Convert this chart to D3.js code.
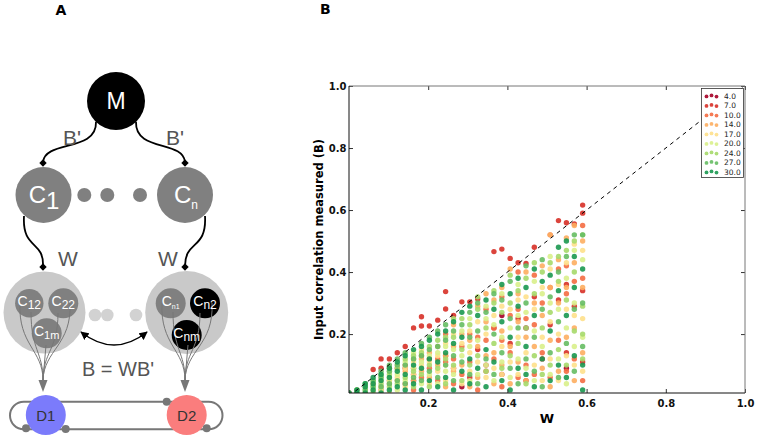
<!DOCTYPE html>
<html>
<head>
<meta charset="utf-8">
<script src="https://cdn.jsdelivr.net/npm/d3@7"></script>
<style>
  body { margin: 0; background: #fff; }
  svg { display: block; }
</style>
</head>
<body>
<svg id="fig" width="759" height="438"></svg>
<script>
// ---- data ----
const wValues = [0.000, 0.020, 0.041, 0.061, 0.081, 0.102, 0.122, 0.142, 0.163, 0.183,
                 0.203, 0.224, 0.244, 0.264, 0.285, 0.305, 0.325, 0.346, 0.366, 0.386,
                 0.407, 0.427, 0.447, 0.468, 0.488, 0.508, 0.529, 0.549, 0.569, 0.590];

const legendLabels = ["4.0", "7.0", "10.0", "14.0", "17.0", "20.0", "24.0", "27.0", "30.0"];
const seriesColors = ["#a50026", "#d73027", "#f46d43", "#fdae61", "#fee08b",
                      "#d9ef8b", "#a6d96a", "#66bd63", "#1a9850"];
const xTicks = [0.2, 0.4, 0.6, 0.8, 1.0];
const yTicks = [0.2, 0.4, 0.6, 0.8, 1.0];

// one entry per W column: measured B values of each series
const b4 = [[],[],[],[],[],[],[],[],[0.05],[],
            [],[],[],[],[0.03],[],[],[],[],[0.26],
            [],[],[0.22],[],[],[],[],[0.09],[],[]];
const b7 = [[0.01],[],[],[0.086],[0.09,0.12],[0.12],[0.14],[0.16,0.09],[0.22,0.07],[0.256,0.226],
            [0.226,0.12],[0.245],[0.337,0.281,0.13],[0.26,0.09],[0.304],[0.304,0.06],[0.313,0.15],[0.10],[0.466,0.22],[0.474,0.07],
            [0.444,0.17],[0.43,0.25],[0.428,0.05],[0.48,0.32],[0.12],[0.23],[0.566,0.31],[0.559,0.36,0.14],[0.555,0.29],[0.616,0.59,0.34,0.11]];
const b10 = [[],[],[],[],[0.02],[0.05],[0.09],[0.04,0.10],[0.02,0.09],[0.06,0.13],
             [0.09],[0.05,0.12],[0.11,0.20],[0.04,0.12],[0.07,0.16],[0.11,0.20],[0.02,0.19],[0.08,0.18,0.28],[0.12,0.22],[0.03,0.18,0.32],
             [0.14,0.26],[0.06,0.28,0.40],[0.10,0.25],[0.07,0.23,0.39],[0.14,0.30],[0.06,0.35,0.52],[0.18,0.41],[0.08,0.33,0.42],[0.12,0.37],[0.05,0.38,0.55]];
const b14 = [[],[],[0.01],[0.04],[0.03],[0.04,0.09],[0.05],[0.08],[0.05,0.12],[0.08,0.12],
             [0.06,0.14],[0.10,0.16],[0.03,0.13],[0.08,0.16,0.23],[0.10,0.20],[0.03,0.18],[0.06,0.16,0.29],[0.13,0.24,0.33],[0.04,0.14,0.31],[0.10,0.21,0.35],
             [0.04,0.16,0.41],[0.11,0.24,0.33],[0.05,0.19,0.40],[0.16,0.30],[0.09,0.26,0.42],[0.03,0.18,0.35,0.52],[0.08,0.30,0.44],[0.19,0.35,0.51],[0.05,0.22,0.43,0.55],[0.14,0.35,0.50]];
const b17 = [[],[0.02],[],[0.02],[0.05],[0.01,0.06],[0.06,0.10],[0.03,0.09],[0.07,0.11],[0.10,0.15],
             [0.04,0.11],[0.08,0.13],[0.05,0.10,0.17],[0.09,0.20],[0.04,0.17],[0.08,0.14,0.21],[0.11,0.24],[0.06,0.20],[0.09,0.26],[0.07,0.16,0.29],
             [0.11,0.28],[0.07,0.19,0.31],[0.14,0.32],[0.10,0.28],[0.05,0.19,0.35],[0.12,0.24,0.41],[0.05,0.20,0.36],[0.13,0.28,0.43],[0.10,0.26,0.49],[0.08,0.25,0.47]];
const b20 = [[],[],[0.02],[0.03],[0.02,0.06],[0.05,0.08],[0.02,0.07],[0.05,0.11],[0.09,0.14],[0.04,0.11],
             [0.07,0.13],[0.04,0.14],[0.08,0.16],[0.07,0.15],[0.13,0.21],[0.05,0.16,0.25],[0.07,0.18],[0.10,0.25,0.29],[0.05,0.23],[0.11,0.19,0.33],
             [0.06,0.22],[0.12,0.26,0.36],[0.09,0.27],[0.05,0.21,0.37],[0.16,0.33],[0.07,0.30,0.45],[0.12,0.28],[0.04,0.22,0.38],[0.16,0.30,0.47],[0.19,0.44]];
const b24 = [[],[0.01],[0.03],[0.01,0.05],[0.04,0.07],[0.03,0.07],[0.04,0.09],[0.06,0.12],[0.03,0.08,0.13],[0.07,0.14],
             [0.03,0.10,0.16],[0.09,0.18],[0.04,0.12,0.19],[0.10,0.19,0.25],[0.05,0.15,0.25],[0.10,0.23],[0.13,0.28,0.32],[0.08,0.22],[0.17,0.30,0.34],[0.09,0.27],
             [0.13,0.30,0.39],[0.17,0.34],[0.04,0.22,0.38],[0.13,0.33,0.43],[0.07,0.22,0.40],[0.10,0.27,0.43],[0.15,0.37,0.45],[0.10,0.31,0.47],[0.21,0.40,0.50],[0.12,0.20,0.29,0.52]];
const b27 = [[0.01],[0.02],[0.02,0.04],[0.03,0.05],[0.03,0.06,0.08],[0.04,0.08,0.10],[0.05,0.10,0.12],[0.04,0.10,0.14],[0.06,0.12],[0.05,0.13,0.17],
             [0.08,0.15,0.19],[0.06,0.16,0.21],[0.10,0.18,0.23],[0.05,0.13,0.21],[0.11,0.23],[0.07,0.19,0.27],[0.04,0.21,0.30],[0.12,0.27],[0.07,0.20,0.33],[0.14,0.31],
             [0.09,0.25,0.37],[0.04,0.22],[0.12,0.30,0.42],[0.08,0.19],[0.03,0.28,0.44],[0.14,0.32],[0.06,0.24,0.40],[0.17,0.45],[0.08,0.28,0.52],[0.16,0.30,0.52]];
const b30 = [[0.01],[0.01,0.02],[0.01,0.03,0.04],[0.02,0.04,0.06],[0.01,0.05,0.07],[0.02,0.06,0.09],[0.03,0.08,0.11],[0.02,0.07,0.13],[0.04,0.10,0.15],[0.02,0.09,0.16],
             [0.05,0.12,0.18],[0.03,0.11,0.20],[0.06,0.14,0.21],[0.02,0.17,0.24],[0.08,0.19,0.27],[0.04,0.12,0.29],[0.09,0.26],[0.03,0.15,0.31],[0.11,0.28],[0.05,0.24,0.36],
             [0.02,0.19,0.33],[0.09,0.29,0.38],[0.07,0.16,0.35],[0.03,0.26,0.41],[0.12,0.37],[0.05,0.21,0.39],[0.10,0.34,0.48],[0.06,0.26,0.50],[0.13,0.35,0.45],[0.02,0.10,0.41]];

const allSeries = [b4, b7, b10, b14, b17, b20, b24, b27, b30];

// ---- figure ----
const svg = d3.select("#fig");

// ================= panel B : scatter =================
const x = d3.scaleLinear().domain([0, 1]).range([349, 745]);
const y = d3.scaleLinear().domain([0.01, 1]).range([393, 86]);

const gB = svg.append("g").attr("font-family", "DejaVu Sans, sans-serif");

gB.append("text").attr("x", 320).attr("y", 14)
  .attr("font-size", 14).attr("font-weight", "bold").text("B");

svg.append("clipPath").attr("id", "plotclip")
  .append("rect").attr("x", 349).attr("y", 86).attr("width", 396).attr("height", 307);

const points = [];
allSeries.forEach((s, k) => s.forEach((ys, i) => ys.forEach(b => points.push({ w: wValues[i], b: b, k: k }))));

const plot = gB.append("g").attr("clip-path", "url(#plotclip)");
plot.selectAll("circle.pt")
  .data(points)
  .join("circle")
  .attr("class", "pt")
  .attr("cx", d => x(d.w))
  .attr("cy", d => y(d.b))
  .attr("r", 2.7)
  .attr("fill", d => seriesColors[d.k])
  .attr("fill-opacity", 0.9);

// y = x reference
plot.append("line")
  .attr("x1", x(0)).attr("y1", y(0))
  .attr("x2", x(1)).attr("y2", y(1))
  .attr("stroke", "#000").attr("stroke-width", 1)
  .attr("stroke-dasharray", "4,4");

// axes (ticks inside, like old matplotlib)
const axB = gB.append("g").attr("transform", "translate(0,393)")
  .call(d3.axisBottom(x).tickValues(xTicks).tickSize(-4).tickPadding(6.5).tickFormat(d3.format(".1f")));
const axT = gB.append("g").attr("transform", "translate(0,86)")
  .call(d3.axisTop(x).tickValues(xTicks).tickSize(-4).tickFormat(""));
const axL = gB.append("g").attr("transform", "translate(349,0)")
  .call(d3.axisLeft(y).tickValues(yTicks).tickSize(-4).tickPadding(2.5).tickFormat(d3.format(".1f")));
const axR = gB.append("g").attr("transform", "translate(745,0)")
  .call(d3.axisRight(y).tickValues(yTicks).tickSize(-4).tickFormat(""));

[axB, axT, axL, axR].forEach(a => {
  a.select(".domain").remove();
  a.selectAll(".tick line").attr("stroke", "#333");
  a.selectAll(".tick text").attr("font-size", 10).attr("font-weight", "bold")
    .attr("font-family", "DejaVu Sans, sans-serif").attr("fill", "#111");
});

// spines
gB.append("line").attr("x1", 349).attr("x2", 745).attr("y1", 86).attr("y2", 86).attr("stroke", "#777");
gB.append("line").attr("x1", 745).attr("x2", 745).attr("y1", 86).attr("y2", 393).attr("stroke", "#777");
gB.append("line").attr("x1", 349).attr("x2", 745).attr("y1", 393).attr("y2", 393).attr("stroke", "#111");
gB.append("line").attr("x1", 349).attr("x2", 349).attr("y1", 86).attr("y2", 393).attr("stroke", "#111");

gB.append("text").attr("x", 547).attr("y", 422.5).attr("text-anchor", "middle")
  .attr("font-size", 13).attr("font-weight", "bold").text("W");
gB.append("text").attr("transform", "translate(323,239.5) rotate(-90)").attr("text-anchor", "middle")
  .attr("font-size", 11.5).attr("font-weight", "bold").text("Input correlation measured (B)");

// legend
const lg = gB.append("g");
lg.append("rect").attr("x", 701.5).attr("y", 88.5).attr("width", 42).attr("height", 89)
  .attr("fill", "#fff").attr("stroke", "#333").attr("stroke-width", 0.8);
const rowY = d3.scaleLinear().domain([0, 8]).range([96, 172]);
const dotOffsets = [[706.5, 0.4], [711.5, -0.6], [716.5, 0.6]];
legendLabels.forEach((lab, k) => {
  dotOffsets.forEach(([dx, dy]) => {
    lg.append("circle").attr("cx", dx).attr("cy", rowY(k) + dy).attr("r", 1.9)
      .attr("fill", seriesColors[k]).attr("fill-opacity", 0.9);
  });
  lg.append("text").attr("x", 724).attr("y", rowY(k) + 2.6)
    .attr("font-size", 7.5).attr("fill", "#222").text(lab);
});

// ================= panel A : diagram =================
const gA = svg.append("g").attr("font-family", "Liberation Sans, Arial, sans-serif");
gA.append("text").attr("x", 61).attr("y", 15).attr("text-anchor", "middle")
  .attr("font-family", "DejaVu Sans, sans-serif")
  .attr("font-size", 14).attr("font-weight", "bold").text("A");

const dark = "#000", mid = "#808080", light = "#c9c9c9", txt = "#555";

function diamond(cx, cy) {
  gA.append("rect").attr("x", cx - 2.6).attr("y", cy - 2.6).attr("width", 5.2).attr("height", 5.2)
    .attr("fill", "#000").attr("transform", `rotate(45,${cx},${cy})`);
}

// M -> C curves
gA.append("path").attr("d", "M96,122 C97,152 45,140 43,162").attr("fill", "none").attr("stroke", "#000").attr("stroke-width", 1.8);
gA.append("path").attr("d", "M136,122 C135,152 183,140 185,162").attr("fill", "none").attr("stroke", "#000").attr("stroke-width", 1.8);
diamond(43, 163); diamond(185, 163);

// C -> big circle curves
gA.append("path").attr("d", "M24,216 C22,250 44,240 43,266").attr("fill", "none").attr("stroke", "#000").attr("stroke-width", 1.8);
gA.append("path").attr("d", "M205,216 C207,250 185,240 185,266").attr("fill", "none").attr("stroke", "#000").attr("stroke-width", 1.8);
diamond(43, 267); diamond(185, 267);

// M
gA.append("circle").attr("cx", 116).attr("cy", 101).attr("r", 29).attr("fill", dark);
gA.append("text").attr("x", 116).attr("y", 109).attr("text-anchor", "middle").attr("fill", "#fff")
  .attr("font-size", 23).text("M");

gA.append("text").attr("x", 72).attr("y", 145).attr("text-anchor", "middle").attr("fill", txt).attr("font-size", 21).text("B'");
gA.append("text").attr("x", 175).attr("y", 145).attr("text-anchor", "middle").attr("fill", txt).attr("font-size", 21).text("B'");

// C row
gA.append("circle").attr("cx", 43.5).attr("cy", 195).attr("r", 28).attr("fill", mid);
gA.append("circle").attr("cx", 185).attr("cy", 195).attr("r", 28).attr("fill", mid);
[84.3, 107.3, 140].forEach(cx => gA.append("circle").attr("cx", cx).attr("cy", 195).attr("r", 7).attr("fill", mid));
const c1 = gA.append("text").attr("x", 44).attr("y", 203).attr("text-anchor", "middle").attr("fill", "#fff").attr("font-size", 24);
c1.append("tspan").text("C");
c1.append("tspan").attr("dy", 6).attr("font-size", 24).text("1");
const cn = gA.append("text").attr("x", 186).attr("y", 203).attr("text-anchor", "middle").attr("fill", "#fff").attr("font-size", 24);
cn.append("tspan").text("C");
cn.append("tspan").attr("dy", 6).attr("font-size", 12).text("n");

gA.append("text").attr("x", 68).attr("y", 266).attr("text-anchor", "middle").attr("fill", txt).attr("font-size", 21).text("W");
gA.append("text").attr("x", 168).attr("y", 266).attr("text-anchor", "middle").attr("fill", txt).attr("font-size", 21).text("W");

// big circles
gA.append("circle").attr("cx", 44.5).attr("cy", 312.5).attr("r", 41).attr("fill", light);
gA.append("circle").attr("cx", 186.7).attr("cy", 312.5).attr("r", 41.5).attr("fill", light);
[95, 107.3, 136].forEach(cx => gA.append("circle").attr("cx", cx).attr("cy", 315).attr("r", 6.3).attr("fill", "#d2d2d2"));

// grey lines converging on D
function funnel(dx) {
  const lines = [
    `M${20 + dx},303 C${18 + dx},345 ${43 + dx},350 ${43 + dx},380`,
    `M${31 + dx},312 C${31 + dx},350 ${43 + dx},352 ${43 + dx},380`,
    `M${58 + dx},313 C${58 + dx},350 ${43 + dx},352 ${43 + dx},380`,
    `M${70 + dx},303 C${72 + dx},345 ${44 + dx},350 ${43 + dx},380`,
    `M${46 + dx},345 L${43 + dx},380`
  ];
  lines.forEach(d => gA.append("path").attr("d", d).attr("fill", "none").attr("stroke", "#777").attr("stroke-width", 1));
  gA.append("path").attr("d", `M${38.5 + dx},380 L${47.5 + dx},380 L${43 + dx},392 Z`).attr("fill", "#777");
}

// inner circles
const inner = [
  { cx: 29.3, cy: 303.3, r: 14.2, fill: mid, sub: "12", fs: 12 },
  { cx: 63.3, cy: 303.3, r: 15, fill: mid, sub: "22", fs: 12 },
  { cx: 46.7, cy: 333.3, r: 15, fill: mid, sub: "1m", fs: 11 },
  { cx: 170.7, cy: 303.3, r: 15, fill: mid, sub: "n1", fs: 7 },
  { cx: 205, cy: 303.3, r: 15, fill: dark, sub: "n2", fs: 12 },
  { cx: 186.7, cy: 335, r: 15, fill: dark, sub: "nm", fs: 12 }
];
inner.forEach(c => gA.append("circle").attr("cx", c.cx).attr("cy", c.cy).attr("r", c.r).attr("fill", c.fill));
funnel(0); funnel(142);
inner.forEach(c => {
  const t = gA.append("text").attr("x", c.cx).attr("y", c.cy + 3).attr("text-anchor", "middle")
    .attr("fill", "#fff").attr("font-size", 14);
  t.append("tspan").text("C");
  t.append("tspan").attr("dy", 3).attr("font-size", c.fs).text(c.sub);
});

// double-headed arrow
const defs = svg.append("defs");
defs.append("marker").attr("id", "ah").attr("viewBox", "0 0 10 10").attr("refX", 9).attr("refY", 5)
  .attr("markerWidth", 6).attr("markerHeight", 6).attr("orient", "auto-start-reverse")
  .append("path").attr("d", "M0,0 L10,5 L0,10 Z").attr("fill", "#000");
gA.append("path").attr("d", "M81,332 Q114,358 147,332").attr("fill", "none").attr("stroke", "#000")
  .attr("stroke-width", 1.4).attr("marker-start", "url(#ah)").attr("marker-end", "url(#ah)");

gA.append("text").attr("x", 118).attr("y", 376).attr("text-anchor", "middle").attr("fill", txt)
  .attr("font-size", 20).text("B = WB'");

// D track
gA.append("rect").attr("x", 10).attr("y", 401.7).attr("width", 212.5).attr("height", 27.6)
  .attr("rx", 13.8).attr("fill", "none").attr("stroke", "#777").attr("stroke-width", 2);
gA.append("circle").attr("cx", 45.8).attr("cy", 415).attr("r", 20).attr("fill", "#7b7bfb");
gA.append("circle").attr("cx", 186.7).attr("cy", 415).attr("r", 20).attr("fill", "#fa7d7d");
[[166.7, 401.7], [26, 428.3], [65.7, 429], [206.7, 428.3]].forEach(([cx, cy]) =>
  gA.append("circle").attr("cx", cx).attr("cy", cy).attr("r", 4).attr("fill", "#777"));
gA.append("text").attr("x", 45.8).attr("y", 420.5).attr("text-anchor", "middle").attr("fill", "#333").attr("font-size", 15).text("D1");
gA.append("text").attr("x", 186.7).attr("y", 420.5).attr("text-anchor", "middle").attr("fill", "#333").attr("font-size", 15).text("D2");
</script>
</body>
</html>
